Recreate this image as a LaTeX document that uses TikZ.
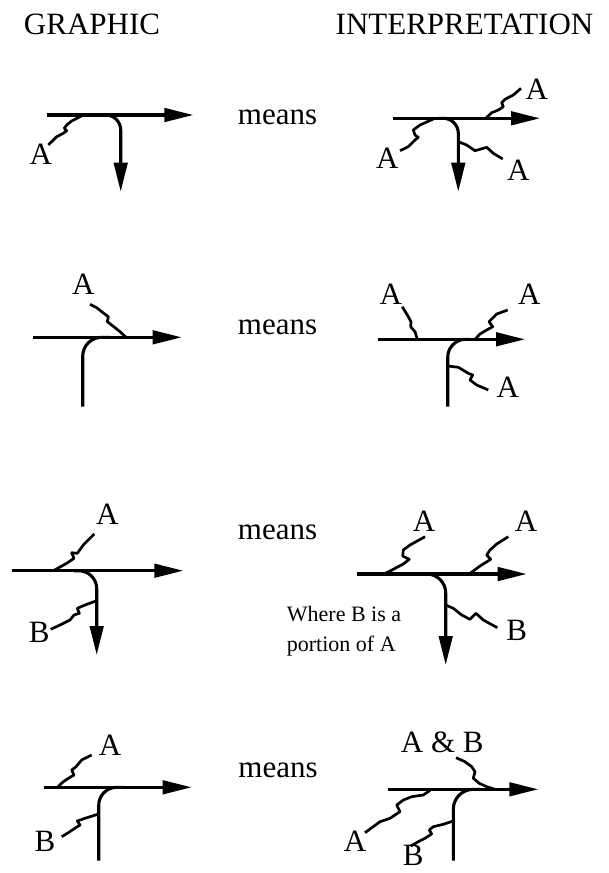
\documentclass[tikz,border=0pt]{standalone}
\usepackage{fontspec}
\setmainfont{Liberation Serif}
\usetikzlibrary{arrows.meta}
\tikzset{
  mainline/.style={line width=3.1pt},
  arr/.style={mainline,-{Triangle[length=29pt,width=13.5pt]}},
  squig/.style={line width=2.7pt, line join=round},
  lbl/.style={font=\fontsize{31}{36}\selectfont, anchor=base, inner sep=0pt},
  note/.style={font=\fontsize{22}{30}\selectfont, anchor=base west, inner sep=0pt},
}
\begin{document}
\begin{tikzpicture}[x=1pt,y=-1pt]
\useasboundingbox (0,0) rectangle (609,873);
% headers
\node[lbl] (hg) at (92,34) {GRAPHIC};
\node[lbl] (hi) at (464.5,34) {INTERPRETATION};
% means
\node[lbl] (m1) at (277.5,124) {means};
\node[lbl] (m2) at (277.5,334) {means};
\node[lbl] (m3) at (277.5,539) {means};
\node[lbl] (m4) at (278,777.7) {means};

% ---------- Row 1 graphic
\draw[arr] (46.7,115) -- (193.3,115);
\draw[arr, rounded corners=15pt] (100,115) -| (120.7,191.7);
\node[lbl] (a1) at (40.7,164) {A};
\draw[squig] (83.3,115) -- (71.7,121) -- (66.7,125) -- (64.3,128.3) -- (66.7,130.7) -- (63.3,133.3) -- (56.7,136.7) -- (48.3,145);

% ---------- Row 1 interpretation
\draw[arr] (393.3,118.3) -- (540,118.3);
\draw[arr, rounded corners=15pt] (438,118.3) -| (458.3,191.7);
\node[lbl] (a2) at (536.7,99.3) {A};
\node[lbl] (a3) at (387.3,168.3) {A};
\node[lbl] (a4) at (518.3,180) {A};
\draw[squig] (485.7,118.3) -- (491.7,112.7) -- (498.3,110) -- (503.3,106.7) -- (501.7,102.7) -- (505,99.3) -- (513.3,95) -- (521,88.3);
\draw[squig] (433.3,119) -- (420,125) -- (413.3,130) -- (415,135) -- (418.3,137.3) -- (415,140) -- (408.3,146.7) -- (400,150.7);
\draw[squig] (458.3,141.7) -- (466.7,145) -- (475,150.7) -- (483.3,148.3) -- (486.7,147.3) -- (493.3,153.3) -- (502.7,159);

% ---------- Row 2 graphic
\draw[arr] (33.3,337.3) -- (181.7,337.3);
\draw[mainline, rounded corners=19pt] (82.7,406.7) |- (110,337.3);
\node[lbl] (a5) at (83.3,294) {A};
\draw[squig] (126,337.3) -- (120,331.7) -- (111.7,325) -- (107.3,321.7) -- (108.3,316.7) -- (101.7,311.7) -- (96.7,307.7) -- (90,304.3);

% ---------- Row 2 interpretation
\draw[arr] (378.3,339.3) -- (525,339.3);
\draw[mainline, rounded corners=18pt] (447.7,406.7) |- (470,339.3);
\node[lbl] (a6) at (390.7,304) {A};
\node[lbl] (a7) at (529.3,304) {A};
\node[lbl] (a8) at (507.7,397.3) {A};
\draw[squig] (417.3,339.3) -- (415,331.7) -- (410.7,326.7) -- (411,321.7) -- (408.3,316.7) -- (402.3,306.7);
\draw[squig] (475,339.3) -- (480,334) -- (486.7,330) -- (492.7,326.7) -- (489,321.7) -- (496.7,314) -- (507.7,310);
\draw[squig] (447.7,366) -- (458.3,367.3) -- (468.3,373.3) -- (472.7,375) -- (470,380) -- (476.7,385) -- (488.3,390);

% ---------- Row 3 graphic
\draw[arr] (11.7,570.7) -- (183.3,570.7);
\draw[arr, rounded corners=18pt] (74,570.7) -| (96.7,655);
\node[lbl] (a9) at (107.3,524.3) {A};
\node[lbl] (b1) at (39.3,642.7) {B};
\draw[squig] (53.3,570.7) -- (66.7,563.3) -- (74,558.3) -- (71.7,552.7) -- (77.3,553.3) -- (83.3,545) -- (94.3,534);
\draw[squig] (96.7,600.7) -- (85,605) -- (77.3,608.3) -- (79.3,613.3) -- (74,615) -- (70,620) -- (60,625) -- (50.7,629.3);

% ---------- Row 3 interpretation
\draw[arr] (356.7,574) -- (526.7,574);
\draw[arr, rounded corners=19pt] (422,574) -| (445.7,665);
\node[lbl] (a10) at (424,531.7) {A};
\node[lbl] (a11) at (526,531.7) {A};
\node[lbl] (b2) at (516.7,640) {B};
\draw[squig] (384.3,574) -- (393.3,569.3) -- (403.3,564) -- (409.3,559.3) -- (402.7,556) -- (403.3,550) -- (410,545) -- (425,536.7);
\draw[squig] (469.3,574) -- (480,566) -- (490.7,559.3) -- (486.7,555) -- (490,550) -- (496.7,544) -- (508.3,536.7);
\draw[squig] (445.7,605) -- (453.3,608.3) -- (461.7,615) -- (470,619.3) -- (476,613.3) -- (483.3,620) -- (497.3,627.7);
\node[note] (n1) at (286.7,621.7) {Where B is a};
\node[note] (n2) at (286.7,651.7) {portion of A};

% ---------- Row 4 graphic
\draw[arr] (44.3,787.3) -- (191.7,787.3);
\draw[mainline, rounded corners=18pt] (98.7,860.7) |- (125,787.3);
\node[lbl] (a12) at (110,755.7) {A};
\node[lbl] (b3) at (45,851.7) {B};
\draw[squig] (57.3,787.3) -- (63.3,781.7) -- (70,777.3) -- (74,775) -- (71.7,770) -- (76,766.7) -- (81.7,760) -- (91.7,755);
\draw[squig] (98.7,814) -- (85,818.3) -- (77.3,821) -- (80,825) -- (73.3,829.3) -- (68.3,832.7) -- (61.7,836.7);

% ---------- Row 4 interpretation
\draw[arr] (388.3,789.3) -- (538.3,789.3);
\draw[mainline, rounded corners=20pt] (453.3,860.7) |- (480,789.3);
\node[lbl] (ab) at (442.3,752.7) {A \& B};
\node[lbl] (a13) at (355,851.7) {A};
\node[lbl] (b4) at (413.3,865) {B};
\draw[squig] (495,789.3) -- (486.7,786.7) -- (479.3,783.3) -- (473.3,778.3) -- (475,771.7) -- (471.7,766.7) -- (465,761.7) -- (456,757.7);
\draw[squig] (430,790.5) -- (423.3,795) -- (411.7,796.7) -- (403.3,800) -- (396.7,805) -- (400,811.7) -- (390,818.3) -- (380,821.7) -- (365,832.7);
\draw[squig] (453.3,821) -- (443.3,824.3) -- (433.3,826.7) -- (429.3,830) -- (431.7,834) -- (425,838.3) -- (418.3,841.7) -- (410.7,846);
\end{tikzpicture}
\end{document}
